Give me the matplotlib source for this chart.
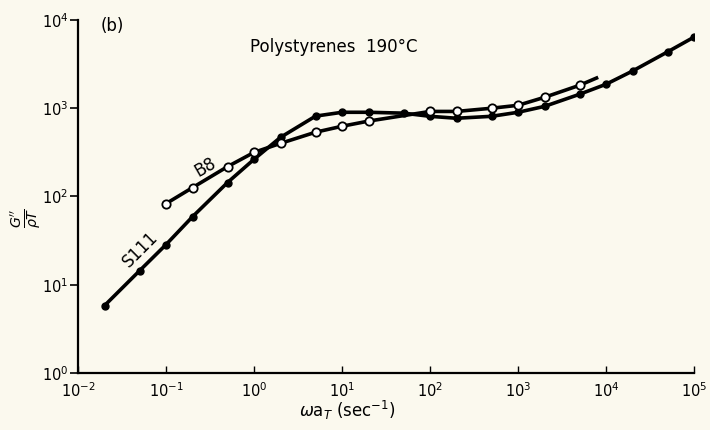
import numpy as np
import matplotlib
matplotlib.use("Agg")
import matplotlib.pyplot as plt
from matplotlib.ticker import LogLocator, NullLocator

# -----------------------------
# Data
# -----------------------------
s111_w = [0.02, 0.05, 0.1, 0.2, 0.5, 1, 2, 5, 10, 20, 50, 100, 200, 500, 1000, 2000, 5000, 1e4, 2e4, 5e4, 1e5]
s111_g = [5.8, 14.4, 28.5, 59, 144, 264, 468, 814, 900, 900, 880, 810, 770, 810, 900, 1050, 1440, 1870, 2640, 4350, 6400]

b8_w = [0.1, 0.2, 0.5, 1, 2, 5, 10, 20, 100, 200, 500, 1000, 2000, 5000]
b8_g = [83, 126, 218, 316, 400, 535, 625, 715, 920, 920, 1000, 1080, 1330, 1820]

# line continues a little past the last points
s111_tail = (1.2e5, 7100)
b8_tail = (7800, 2200)

BG = "#fbf9ee"
FONT = 10.5

fig = plt.figure(figsize=(7.1, 4.3), dpi=100, facecolor=BG)
ax = fig.add_axes([0.1099, 0.1326, 0.8676, 0.8209])
ax.set_facecolor(BG)

ax.plot(list(s111_w) + [s111_tail[0]], list(s111_g) + [s111_tail[1]], color="black", lw=2.6, zorder=2)
ax.plot(s111_w, s111_g, "o", color="black", ms=5, zorder=3)
ax.plot(list(b8_w) + [b8_tail[0]], list(b8_g) + [b8_tail[1]], color="black", lw=2.6, zorder=2)
ax.plot(b8_w, b8_g, "o", mfc="white", mec="black", mew=1.3, ms=6, zorder=4)

ax.set_xscale("log")
ax.set_yscale("log")
ax.set_xlim(1e-2, 1e5)
ax.set_ylim(1e0, 1e4)
ax.xaxis.set_major_locator(LogLocator(base=10, numticks=10))
ax.yaxis.set_major_locator(LogLocator(base=10, numticks=10))
ax.xaxis.set_minor_locator(NullLocator())
ax.yaxis.set_minor_locator(NullLocator())

for side in ["top", "right"]:
    ax.spines[side].set_visible(False)
for side in ["left", "bottom"]:
    ax.spines[side].set_linewidth(1.6)
ax.tick_params(axis="x", direction="in", length=5, width=1, labelsize=FONT, pad=6)
ax.tick_params(axis="y", direction="out", length=6, width=1.2, labelsize=FONT, pad=1)

# axis labels placed by hand (as in the original figure)
fig.text(347 / 710, 1 - 410 / 430, r"$\omega$a$_T$ (sec$^{-1}$)", fontsize=FONT + 1.5,
         ha="center", va="center")
fig.text(26 / 710, 1 - 218 / 430, r"$\frac{G''}{\rho T}$", fontsize=FONT + 4,
         rotation=90, ha="center", va="center")

ax.text(0.9, 4.9e3, "Polystyrenes  190°C", fontsize=FONT + 1.5, ha="left", va="center")
ax.text(0.0243, 8.5e3, "(b)", fontsize=FONT + 1.5, ha="center", va="center")
ax.text(0.051, 25, "S111", fontsize=FONT + 1.5, rotation=45, ha="center", va="center")
ax.text(0.277, 214, "B8", fontsize=FONT + 1.5, rotation=30, ha="center", va="center")

fig.savefig("out.png", dpi=100, facecolor=BG)
